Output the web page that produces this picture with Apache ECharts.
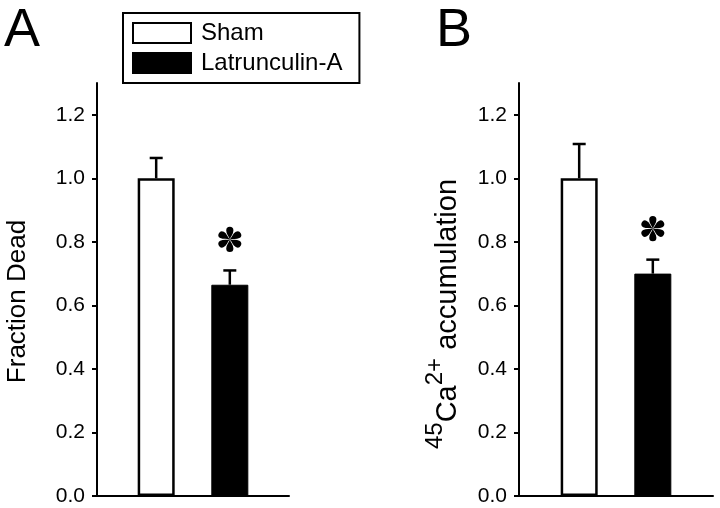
<!DOCTYPE html>
<html><head><meta charset="utf-8">
<script src="https://cdn.jsdelivr.net/npm/echarts@6/dist/echarts.min.js"></script>
<style>html,body{margin:0;padding:0;background:#fff}#c{width:720px;height:508px}</style>
</head><body><div id="c"></div>
<script>
const groups = ['Sham', 'Latrunculin-A'];
const fractionDead = [1.00, 0.665];
const fractionDeadSEM = [0.064, 0.045];
const caAccumulation = [1.00, 0.70];
const caAccumulationSEM = [0.108, 0.044];
const significant = [false, true];
const yTicks = [0, 0.2, 0.4, 0.6, 0.8, 1.0, 1.2];
const panelLetters = ['A', 'B'];
const yNames = ['Fraction Dead', '{sup|45}{big|Ca}{sup|2+}{big| accumulation}'];

const FONT = '"Liberation Sans", Arial, sans-serif';
const BAR_W = 37, BAR_GAP = '99%';
const groupStyles = [
  {color: '#fff', borderColor: '#000', borderWidth: 2.5},
  {color: '#000', borderColor: '#000', borderWidth: 1}
];
const panelData = [[fractionDead, fractionDeadSEM], [caAccumulation, caAccumulationSEM]];
const grids = [
  {left: 97, top: 83, width: 192, height: 413},
  {left: 519, top: 83, width: 194, height: 413}
];
const nameGaps = [66, 37];
const namePads = [[0, 24, 0, 0], [0, 49, 0, 0]];

// six teardrop petals of the significance asterisk (petal pointing up, in px)
const PETAL = 'M0,0 C-0.8,-3 -3.6,-5.5 -3.6,-9 A3.6,3.6 0 1 1 3.6,-9 C3.6,-5.5 0.8,-3 0,0 Z';

function errorRender(params, api) {
  const layout = api.barLayout({barWidth: BAR_W, barGap: BAR_GAP, count: groups.length});
  const gi = api.value(3);
  const base = api.coord([api.value(0), api.value(1)]);
  const top = api.coord([api.value(0), api.value(2)]);
  const x = base[0] + layout[gi].offsetCenter;
  const children = [
    {type: 'line', shape: {x1: x, y1: base[1], x2: x, y2: top[1]}, style: {stroke: '#000', lineWidth: 2.5}},
    {type: 'line', shape: {x1: x - 6.5, y1: top[1], x2: x + 6.5, y2: top[1]}, style: {stroke: '#000', lineWidth: 2.5}}
  ];
  if (api.value(4)) {
    const petals = [];
    for (let k = 0; k < 6; k++) {
      petals.push({type: 'path', rotation: k * Math.PI / 3, shape: {pathData: PETAL}, style: {fill: '#000'}});
    }
    children.push({type: 'group', x: x, y: top[1] - 31, children: petals});
  }
  return {type: 'group', children: children};
}

const series = [];
panelData.forEach(([means, sems], p) => {
  groups.forEach((g, gi) => {
    series.push({
      type: 'bar', name: g, xAxisIndex: p, yAxisIndex: p,
      barWidth: BAR_W, barGap: BAR_GAP,
      data: [means[gi]],
      itemStyle: groupStyles[gi],
      emphasis: {disabled: true}, silent: true
    });
  });
  series.push({
    type: 'custom', xAxisIndex: p, yAxisIndex: p, z: 5,
    renderItem: errorRender,
    encode: {x: 0, y: [1, 2]},
    data: groups.map((g, gi) => [0, means[gi], means[gi] + sems[gi], gi, significant[gi] ? 1 : 0]),
    silent: true
  });
});

const chart = echarts.init(document.getElementById('c'));
chart.setOption({
  animation: false,
  backgroundColor: '#fff',
  title: panelLetters.map((t, i) => ({
    text: t, left: [4, 436][i], top: 4, padding: 0,
    textStyle: {fontSize: 54, fontWeight: 'normal', color: '#000', fontFamily: FONT}
  })),
  legend: {
    data: groups, orient: 'vertical', left: 123, top: 13, padding: [8, 17, 8, 9], itemGap: 6,
    itemWidth: 58, itemHeight: 20, icon: 'rect', borderColor: '#000', borderWidth: 2,
    selectedMode: false,
    textStyle: {fontSize: 24, fontFamily: FONT, color: '#000', padding: [0, 0, 0, 5]}
  },
  grid: grids,
  xAxis: grids.map((g, i) => ({
    gridIndex: i, type: 'category', data: [''],
    axisLine: {lineStyle: {color: '#000', width: 2}},
    axisTick: {show: false}, axisLabel: {show: false}
  })),
  yAxis: grids.map((g, i) => ({
    gridIndex: i, type: 'value', min: 0, max: 1.3,
    axisLine: {show: true, lineStyle: {color: '#000', width: 2}},
    axisTick: {show: true, length: 5, lineStyle: {color: '#000', width: 2}, customValues: yTicks},
    axisLabel: {customValues: yTicks, formatter: v => v.toFixed(1), color: '#000', fontSize: 21, fontFamily: FONT, margin: 12},
    splitLine: {show: false},
    name: yNames[i], nameLocation: 'middle', nameRotate: 90, nameGap: nameGaps[i],
    nameTextStyle: {
      color: '#000', fontFamily: FONT, fontSize: 26, padding: namePads[i],
      rich: {
        big: {fontSize: 29, fontFamily: FONT, color: '#000', verticalAlign: 'middle', lineHeight: 29},
        sup: {fontSize: 24, fontFamily: FONT, color: '#000', verticalAlign: 'middle', lineHeight: 24, padding: [0, 0, 27, 0]}
      }
    }
  })),
  series: series
});
</script></body></html>
